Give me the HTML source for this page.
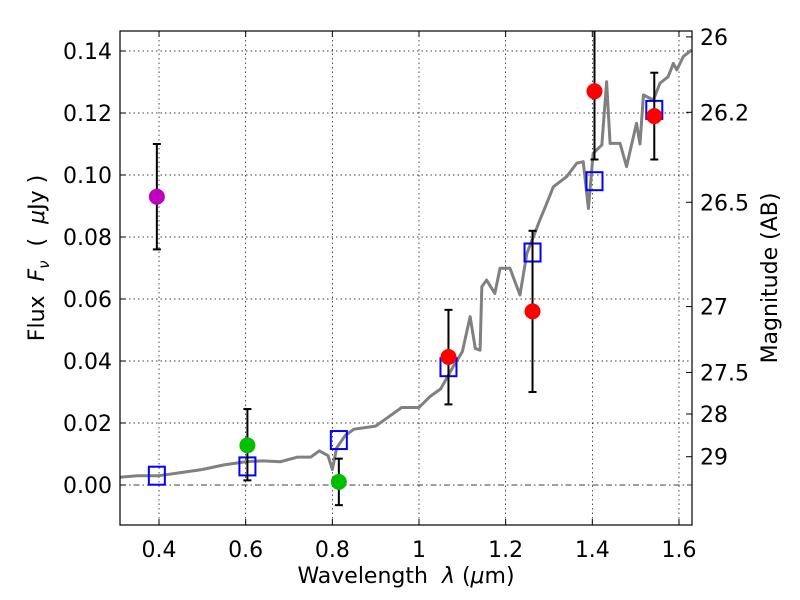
<!DOCTYPE html>
<html><head><meta charset="utf-8"><style>
body{margin:0;background:#fff}
svg{display:block;font-family:"DejaVu Sans","Liberation Sans",sans-serif}
</style></head><body>
<svg id="chart" width="800" height="600"></svg>
<script>
const xTicks=[0.4,0.6,0.8,1.0,1.2,1.4,1.6];
const xTickLabels=["0.4","0.6","0.8","1","1.2","1.4","1.6"];
const yTicks=[0,0.02,0.04,0.06,0.08,0.10,0.12,0.14];
const yTickLabels=["0.00","0.02","0.04","0.06","0.08","0.10","0.12","0.14"];
const magTicks=[26,26.2,26.5,27,27.5,28,29];
const magTickLabels=["26","26.2","26.5","27","27.5","28","29"];
const specLam=[0.31,0.35,0.4,0.45,0.5,0.55,0.6,0.64,0.68,0.72,0.75,0.77,0.79,0.80,0.81,0.83,0.85,0.9,0.93,0.96,1.0,1.025,1.05,1.079,1.1,1.118,1.13,1.141,1.145,1.156,1.175,1.187,1.21,1.233,1.249,1.279,1.295,1.31,1.341,1.364,1.379,1.391,1.402,1.422,1.433,1.441,1.464,1.479,1.502,1.51,1.518,1.541,1.556,1.575,1.587,1.595,1.61,1.629];
const specFlux=[0.0025,0.003,0.003,0.004,0.005,0.0065,0.0075,0.0078,0.0075,0.009,0.009,0.011,0.0095,0.005,0.012,0.016,0.018,0.019,0.022,0.025,0.025,0.0285,0.031,0.0382,0.043,0.0543,0.044,0.0435,0.064,0.0661,0.0618,0.0699,0.0699,0.0613,0.0747,0.0855,0.0909,0.0962,0.0995,0.1038,0.1043,0.0892,0.107,0.1097,0.1301,0.1102,0.1102,0.1027,0.1167,0.11,0.1258,0.1242,0.1296,0.1317,0.136,0.1339,0.1382,0.1403];
const obsLam=[0.395,0.604,0.815,1.068,1.262,1.405,1.543];
const obsFlux=[0.093,0.0128,0.001,0.0413,0.056,0.127,0.119];
const obsLo=[0.076,0.0015,-0.0065,0.026,0.030,0.105,0.105];
const obsHi=[0.110,0.0245,0.0085,0.0565,0.082,0.15,0.133];
const obsColor=["#bf00bf","#00bf00","#00bf00","#ff0000","#ff0000","#ff0000","#ff0000"];
const modelLam=[0.395,0.604,0.815,1.068,1.262,1.405,1.543];
const modelFlux=[0.003,0.006,0.0145,0.038,0.075,0.098,0.121];

const L=120,R=692,T=31,B=525;
const X=v=>-14.3+433.3*v;
const Y=v=>485-3100*v;
const magY=m=>Y(Math.pow(10,(23.9-m)/2.5));
const svg=document.getElementById('chart');
const NS='http://www.w3.org/2000/svg';
function mk(tag,attrs,parent){const e=document.createElementNS(NS,tag);for(const k in attrs)e.setAttribute(k,attrs[k]);(parent||svg).appendChild(e);return e;}
const defs=mk('defs',{});const cp=mk('clipPath',{id:'clip'},defs);mk('rect',{x:L,y:T,width:R-L,height:B-T},cp);
const grid=mk('g',{});


xTicks.forEach((v,i)=>{
 const x=X(v);
 if(x<R-1) mk('line',{x1:x,x2:x,y1:T,y2:B,stroke:'#000','stroke-width':0.7,'stroke-dasharray':'1.5,3'},grid);
 mk('line',{x1:x,x2:x,y1:B,y2:B-6,stroke:'#000'},grid);
 mk('line',{x1:x,x2:x,y1:T,y2:T+6,stroke:'#000'},grid);
 const t=mk('text',{x:x,y:B+32,'text-anchor':'middle','font-size':22});t.textContent=xTickLabels[i];
 
 
});
yTicks.forEach((v,i)=>{
 const y=Y(v);
 mk('line',{x1:L,x2:R,y1:y,y2:y,stroke:'#000','stroke-width':0.7,'stroke-dasharray':v===0?'6,3,1.5,3':'1.5,3'},grid);
 mk('line',{x1:L,x2:L+6,y1:y,y2:y,stroke:'#000'},grid);
 const t=mk('text',{x:L-8,y:y+8,'text-anchor':'end','font-size':22});t.textContent=yTickLabels[i];
 
 
});
magTicks.forEach((m,i)=>{
 const y=magY(m);
 mk('line',{x1:R,x2:R-6,y1:y,y2:y,stroke:'#000'});
 const t=mk('text',{x:R+8,y:y+8,'font-size':22});t.textContent=magTickLabels[i];
 
 
});
const plot=mk('g',{'clip-path':'url(#clip)'});
const sp=mk('polyline',{points:specLam.map((l,i)=>X(l)+','+Y(specFlux[i])).join(' '),fill:'none',stroke:'#808080','stroke-width':3,'stroke-linejoin':'round'},plot);


modelLam.forEach((l,i)=>{
 const r=mk('rect',{x:X(l)-8,y:Y(modelFlux[i])-9,width:16,height:18,fill:'none',stroke:'#0000ff','stroke-width':2},plot);
 
 
});
obsLam.forEach((l,i)=>{
 const x=X(l);
 const g=mk('g',{},plot);
 
 
 mk('line',{x1:x,x2:x,y1:Y(obsLo[i]),y2:Y(obsHi[i]),stroke:'#000','stroke-width':2},g);
 mk('line',{x1:x-4,x2:x+4,y1:Y(obsLo[i]),y2:Y(obsLo[i]),stroke:'#000','stroke-width':2},g);
 mk('line',{x1:x-4,x2:x+4,y1:Y(obsHi[i]),y2:Y(obsHi[i]),stroke:'#000','stroke-width':2},g);
 mk('circle',{cx:x,cy:Y(obsFlux[i]),r:8,fill:obsColor[i]},g);
});
const fr=mk('rect',{x:L,y:T,width:R-L,height:B-T,fill:'none',stroke:'#000','stroke-width':1.2});


</script>
<svg width="800" height="600" style="position:absolute;left:0;top:0;font-family:'DejaVu Sans','Liberation Sans',sans-serif">
<text x="406" y="583" text-anchor="middle" font-size="22" xml:space="preserve">Wavelength  <tspan font-style="italic">λ</tspan> (<tspan font-style="italic">μ</tspan>m)</text>
<text transform="translate(44,258) rotate(-90)" text-anchor="middle" font-size="22" xml:space="preserve">Flux  <tspan font-style="italic">F</tspan><tspan font-style="italic" font-size="15" dy="5">ν</tspan><tspan dy="-5">  (  </tspan><tspan font-style="italic">μ</tspan>Jy )</text>
<text transform="translate(777,278) rotate(-90)" text-anchor="middle" font-size="22">Magnitude (AB)</text>
</svg>
</body></html>
